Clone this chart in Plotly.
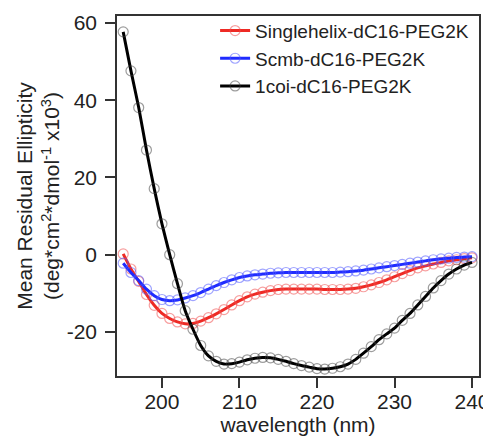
import plotly.graph_objects as go

wavelength = list(range(195, 241))

singlehelix = [0.2, -3.7, -6.9, -10.3, -13.1, -15.2, -16.5, -17.4, -17.9, -17.8,
               -17.2, -16.3, -15.3, -14.2, -13.0, -11.9, -10.9, -10.2, -9.7, -9.3,
               -9.0, -8.9, -8.9, -8.9, -8.9, -8.9, -9.0, -9.0, -9.0, -8.9,
               -8.7, -8.3, -7.8, -7.2, -6.5, -5.7, -4.9, -4.1, -3.4, -2.9,
               -2.4, -2.0, -1.6, -1.3, -1.0, -0.8]

scmb = [-2.2, -4.6, -6.7, -8.9, -10.6, -11.6, -11.9, -11.7, -11.2, -10.6,
        -9.8, -8.9, -8.0, -7.2, -6.5, -5.9, -5.5, -5.2, -5.0, -4.8,
        -4.7, -4.6, -4.6, -4.6, -4.6, -4.6, -4.6, -4.6, -4.5, -4.4,
        -4.2, -4.0, -3.7, -3.4, -3.1, -2.8, -2.5, -2.2, -1.9, -1.6,
        -1.3, -1.1, -0.9, -0.7, -0.6, -0.5]

coi = [57.7, 47.6, 38.1, 27.1, 17.1, 8.0, 0.0, -7.5, -14.5, -19.3,
       -23.5, -26.2, -27.6, -28.3, -28.2, -27.8, -27.2, -26.8, -26.6, -26.7,
       -27.1, -27.6, -28.2, -28.7, -29.1, -29.5, -29.6, -29.4, -29.0, -28.3,
       -27.1, -25.5, -23.8, -22.0, -20.5, -19.0, -17.0, -15.2, -13.0, -10.8,
       -8.6, -6.7, -5.0, -3.7, -2.7, -2.0]

series_names = ["Singlehelix-dC16-PEG2K", "Scmb-dC16-PEG2K", "1coi-dC16-PEG2K"]
series_values = [singlehelix, scmb, coi]
line_colors = ["#ee2a24", "#1f2bff", "#000000"]
marker_colors = ["rgba(240,80,80,0.55)", "rgba(80,90,255,0.55)", "rgba(60,60,60,0.5)"]

x_ticks = [200, 210, 220, 230, 240]
x_ticktext = ["200", "210", "220", "230", "240"]
y_ticks = [-20, 0, 20, 40, 60]
y_ticktext = ["-20", "0", "20", "40", "60"]

FONT = "Liberation Sans, Arial, Helvetica, sans-serif"

fig = go.Figure()
for name, vals, lc, mc in zip(series_names, series_values, line_colors, marker_colors):
    fig.add_trace(go.Scatter(
        x=wavelength, y=vals, name=name, mode="lines+markers",
        line=dict(color=lc, width=3, shape="spline", smoothing=0.6),
        marker=dict(symbol="circle-open", size=10, color=mc, line=dict(width=1.2, color=mc)),
    ))

# the page body has an 8px default margin, so the figure is made 8px smaller
fig.update_layout(
    width=483, height=436,
    margin=dict(l=109, r=12, t=8, b=68, autoexpand=False),
    paper_bgcolor="white", plot_bgcolor="white",
    font=dict(family=FONT, size=21, color="#222222"),
    showlegend=True,
    legend=dict(x=0.271, y=1.012, xanchor="left", yanchor="top",
                bgcolor="rgba(0,0,0,0)", font=dict(size=19, color="#222222"),
                itemwidth=30, tracegroupgap=0),
)
fig.update_xaxes(
    range=[194.2, 240.9], tickvals=x_ticks, ticktext=x_ticktext, ticks="outside", ticklen=10,
    tickwidth=1.5, tickcolor="#333", showline=True, linecolor="#333", linewidth=1.5,
    mirror=True, showgrid=False, zeroline=False, ticklabelstandoff=-4, automargin=False,
    tickfont=dict(size=21),
    title=dict(text="wavelength (nm)", font=dict(size=21), standoff=0),
)
fig.update_yaxes(
    range=[-31.4, 61.8], tickvals=y_ticks, ticktext=y_ticktext, ticks="outside", ticklen=10,
    tickwidth=1.5, tickcolor="#333", showline=True, linecolor="#333", linewidth=1.5,
    mirror=True, showgrid=False, zeroline=False, ticklabelstandoff=4, automargin=False,
    tickfont=dict(size=21),
    title=dict(text="Mean Residual Ellipticity<br>(deg*cm<sup>2</sup>*dmol<sup>-1</sup> x10<sup>3</sup>)",
               font=dict(size=21), standoff=1),
)

fig.write_html("out.html")
